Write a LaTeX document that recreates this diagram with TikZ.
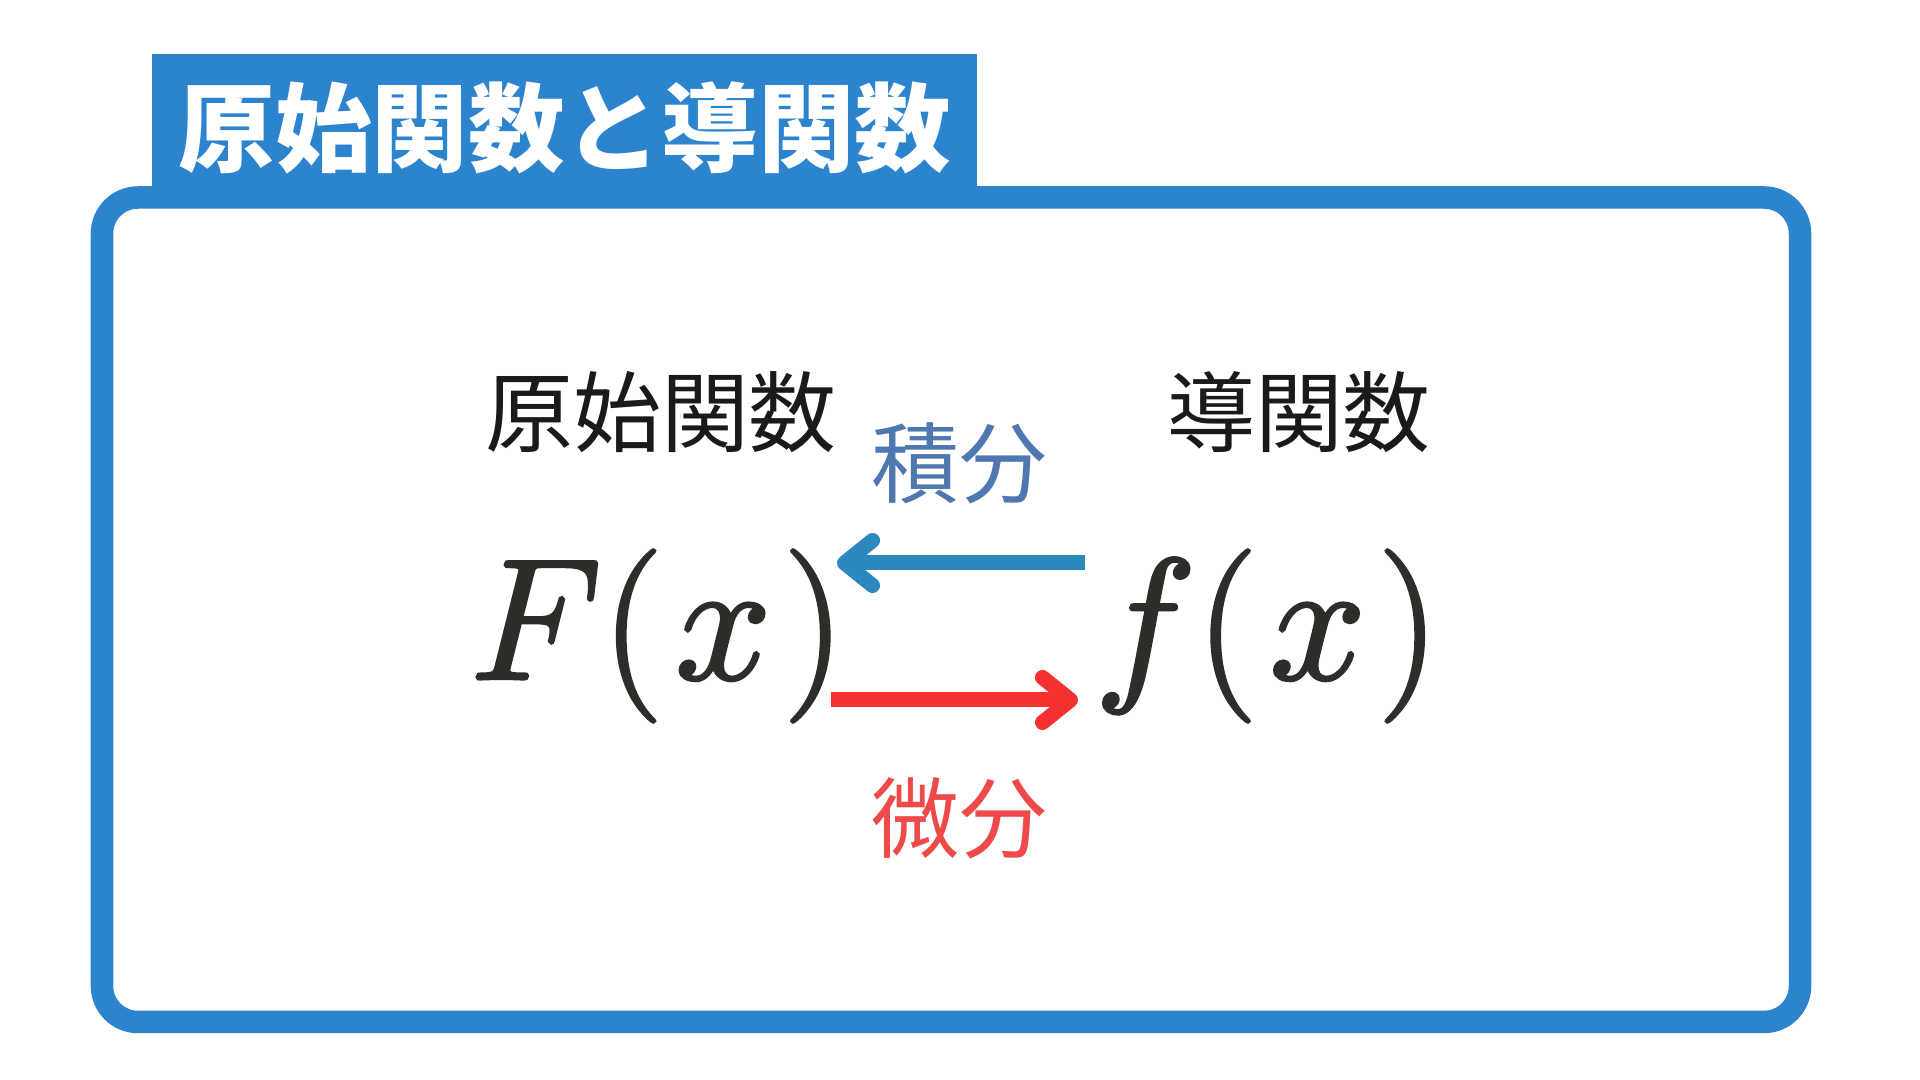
\RequirePackage{fix-cm}
\documentclass[tikz,border=0pt]{standalone}
\usepackage{fontspec}
\newfontfamily\jp{Noto Sans CJK JP}
\usetikzlibrary{arrows.meta}
\definecolor{frameblue}{RGB}{44,132,206}
\definecolor{intblue}{RGB}{78,120,175}
\definecolor{difred}{RGB}{238,74,74}
\definecolor{arrblue}{RGB}{44,137,189}
\definecolor{arrred}{RGB}{244,48,48}
\definecolor{mathgray}{RGB}{45,45,42}
\definecolor{lblblack}{RGB}{26,26,26}
\newcommand{\heavytext}[1]{\special{pdf:literal direct 2 Tr 0.9 w}#1\special{pdf:literal direct 0 Tr}}
\begin{document}
\begin{tikzpicture}[x=0.01cm,y=-0.01cm,
  titletext/.style={inner sep=0pt, text=white, font=\jp\bfseries\fontsize{27.45pt}{30pt}\selectfont},
  lbl/.style={inner sep=0pt, text=lblblack, font=\jp\fontsize{25pt}{28pt}\selectfont},
  mth/.style={inner sep=0pt, text=mathgray, font=\fontsize{49pt}{52pt}\selectfont, anchor=base},
  arr/.style={line width=0.15cm, -{Straight Barb[length=2.8mm, width=4.5mm, round]}}]
\useasboundingbox (0,0) rectangle (1920,1080);
\fill[white] (0,0) rectangle (1920,1080);
% title tab and frame
\fill[frameblue] (152,54) rectangle (977,205);
\draw[frameblue, line width=0.225cm, rounded corners=0.36cm] (102,197.5) rectangle (1800,1022);
\node[titletext] (title) at (565,128) {原始関数と導関数};
% labels
\node[lbl] (prim) at (661,412) {原始関数};
\node[lbl] (deriv) at (1299,412) {導関数};
\node[lbl, text=intblue] (int) at (959,463) {積分};
\node[lbl, text=difred] (dif) at (959,818) {微分};
% arrows
\coordinate (intS) at (1085,563);
\coordinate (intE) at (837,563);
\coordinate (difS) at (831,700);
\coordinate (difE) at (1078,700);
\draw[arr, arrblue] (intS) -- (intE);
\draw[arr, arrred] (difS) -- (difE);
% formulas
\node[mth] (F) at (657,679) {\heavytext{$F(\mkern1.3mu x\mkern1.3mu)$}};
\node[mth] (f) at (1267,679) {\heavytext{$f(\mkern1.3mu x\mkern1.3mu)$}};
\end{tikzpicture}
\end{document}
